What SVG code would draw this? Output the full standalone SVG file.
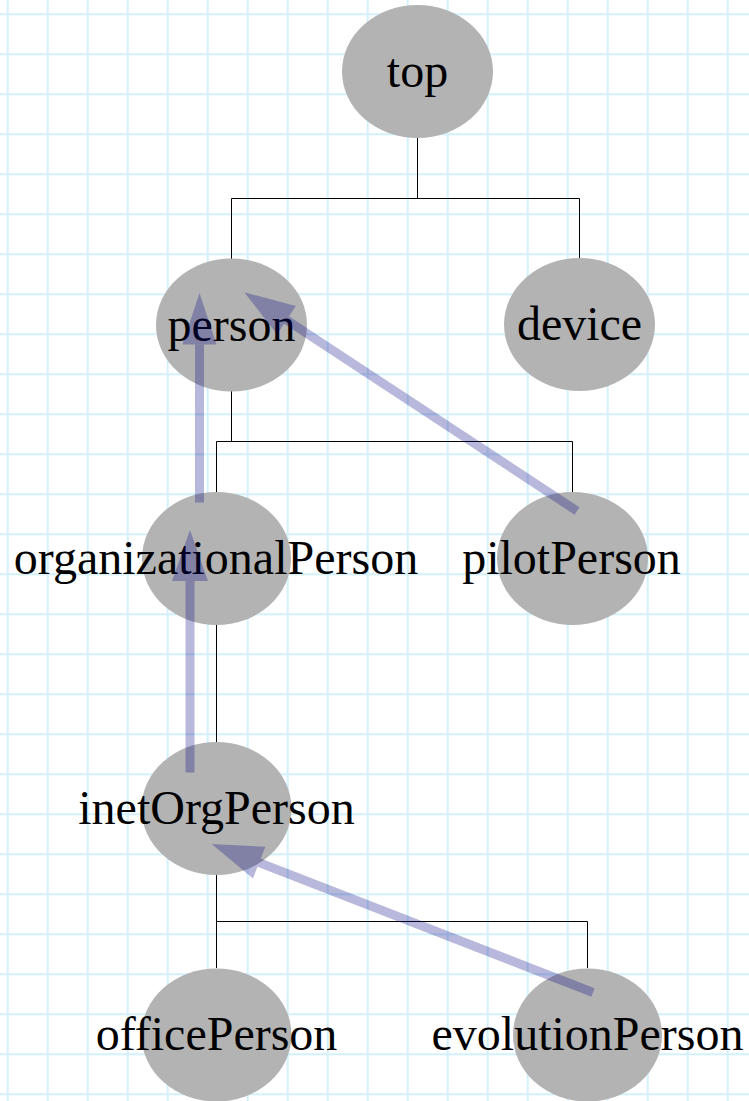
<svg xmlns="http://www.w3.org/2000/svg" width="749" height="1101" viewBox="0 0 749 1101">
<defs>
<pattern id="grid" x="0" y="0" width="40" height="40" patternUnits="userSpaceOnUse">
<rect x="6.7" y="0" width="2" height="40" fill="#d3f0fd"/>
<rect x="0" y="13.3" width="40" height="2" fill="#d3f0fd"/>
</pattern>
</defs>
<style>
.node ellipse{fill:#b3b3b3}
.node text{font-family:"Liberation Serif","Times New Roman",serif;font-size:48px;fill:#000;text-anchor:middle}
.tree path{fill:none;stroke:#000;stroke-width:1}
.arrow line{stroke:#000080;stroke-width:9;stroke-opacity:0.28}
.arrow polygon{fill:#000080;fill-opacity:0.28}
</style>
<rect x="0" y="0" width="749" height="1101" fill="#fff"/>
<rect x="0" y="0" width="749" height="1101" fill="url(#grid)"/>
<g id="connectors" class="tree">
<path d="M417.5 138V198.5M231.5 198.5H579.5M231.5 198.5V259M579.5 198.5V258"/>
<path d="M231.5 391V441.5M216.5 441.5H572.5M216.5 441.5V492M572.5 441.5V492"/>
<path d="M216.5 625V742"/>
<path d="M216.5 875V921.5M216.5 921.5H587.5M216.5 921.5V968M587.5 921.5V968"/>
</g>
<g id="top" class="node"><ellipse cx="417.5" cy="71.5" rx="75.5" ry="66.5"/><text x="417.5" y="87">top</text></g>
<g id="person" class="node"><ellipse cx="231.5" cy="325" rx="75.5" ry="66.5"/><text x="231.5" y="340.5">person</text></g>
<g id="device" class="node"><ellipse cx="579.5" cy="324.5" rx="75.5" ry="66.5"/><text x="579.5" y="340">device</text></g>
<g id="organizationalPerson" class="node"><ellipse cx="216.5" cy="558.5" rx="74.5" ry="66.5"/><text x="216" y="573.5">organizationalPerson</text></g>
<g id="pilotPerson" class="node"><ellipse cx="572.5" cy="558.5" rx="75.5" ry="66.5"/><text x="571.5" y="573.5">pilotPerson</text></g>
<g id="inetOrgPerson" class="node"><ellipse cx="216.5" cy="808.5" rx="75" ry="66.5"/><text x="216.5" y="823.5">inetOrgPerson</text></g>
<g id="officePerson" class="node"><ellipse cx="216.5" cy="1035" rx="75" ry="66.5"/><text x="216.5" y="1050">officePerson</text></g>
<g id="evolutionPerson" class="node"><ellipse cx="587.5" cy="1035" rx="74.5" ry="66.5"/><text x="587.5" y="1050">evolutionPerson</text></g>
<g id="arrows" class="arrow">
<line x1="199.5" y1="502.5" x2="199.5" y2="344.5"/>
<polygon points="199.5,293 182.5,344.5 216.5,344.5"/>
<line x1="190" y1="772.5" x2="190" y2="581"/>
<polygon points="190,530 172,581 208,581"/>
<line x1="577" y1="511" x2="286.5" y2="320.1"/>
<polygon points="244.3,292.3 295.9,305.9 277.1,334.3"/>
<line x1="593" y1="992.5" x2="259.2" y2="862.6"/>
<polygon points="211.7,844 265.4,846.8 253,878.4"/>
</g>
</svg>
